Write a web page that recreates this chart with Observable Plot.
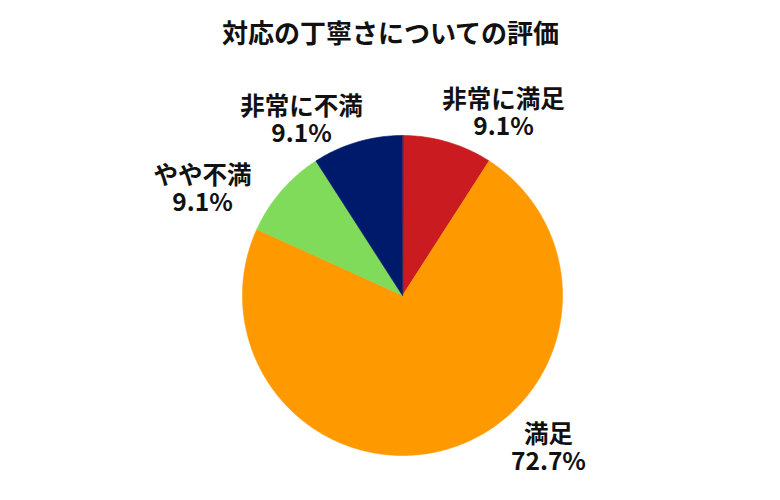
<!DOCTYPE html>
<html>
<head>
<meta charset="utf-8">
<script src="https://cdn.jsdelivr.net/npm/d3@7"></script>
<script src="https://cdn.jsdelivr.net/npm/@observablehq/plot@0.6"></script>
<style>
  html, body { margin: 0; padding: 0; background: #fff; }
</style>
</head>
<body>
<div id="chart"></div>
<script>
const title = "対応の丁寧さについての評価";
const categories = ["非常に満足", "満足", "やや不満", "非常に不満"];
const values = [9.1, 72.7, 9.1, 9.1];
const percentLabels = ["9.1%", "72.7%", "9.1%", "9.1%"];
const colors = ["#c91b20", "#ff9900", "#7fdb59", "#001a6b"];

// layout (pixel space of the 780x500 svg)
const cx = 402, cy = 295, r = 160;
const labelPos = [
  {x: 503, y: 100},
  {x: 548, y: 435},
  {x: 202, y: 176},
  {x: 301, y: 107}
];
const lineGap = 27;

const arcs = d3.pie().sort(null).value(d => d)(values);
const pts = [];
arcs.forEach((a, i) => {
  const cat = categories[i];
  pts.push({cat, x: cx, y: cy});
  const n = Math.max(8, Math.ceil((a.endAngle - a.startAngle) / 0.01));
  for (let k = 0; k <= n; k++) {
    const t = a.startAngle + (a.endAngle - a.startAngle) * k / n;
    pts.push({cat, x: cx + r * Math.sin(t), y: cy - r * Math.cos(t)});
  }
});

const nameLabels = categories.map((c, i) => ({text: c, x: labelPos[i].x, y: labelPos[i].y}));
const pctLabels = percentLabels.map((p, i) => ({text: p, x: labelPos[i].x, y: labelPos[i].y + lineGap}));

const textStyle = {fontSize: 24.5, fontWeight: "bold", fill: "#111", lineAnchor: "middle", textAnchor: "middle"};

const plot = Plot.plot({
  width: 780,
  height: 500,
  margin: 0,
  style: {fontFamily: '"Noto Sans CJK JP", "Noto Sans", sans-serif', background: "#fff"},
  x: {domain: [0, 780], range: [0, 780], axis: null},
  y: {domain: [0, 500], range: [0, 500], axis: null},
  color: {domain: categories, range: colors},
  marks: [
    Plot.line(pts, {x: "x", y: "y", z: "cat", fill: "cat", stroke: "cat", strokeWidth: 0.6, curve: "linear-closed"}),
    Plot.text(nameLabels, {x: "x", y: "y", text: "text", ...textStyle}),
    Plot.text(pctLabels, {x: "x", y: "y", text: "text", ...textStyle}),
    Plot.text([title], {x: () => 390, y: () => 34, text: d => d, ...textStyle, fontSize: 26})
  ]
});
document.getElementById("chart").appendChild(plot);
</script>
</body>
</html>
